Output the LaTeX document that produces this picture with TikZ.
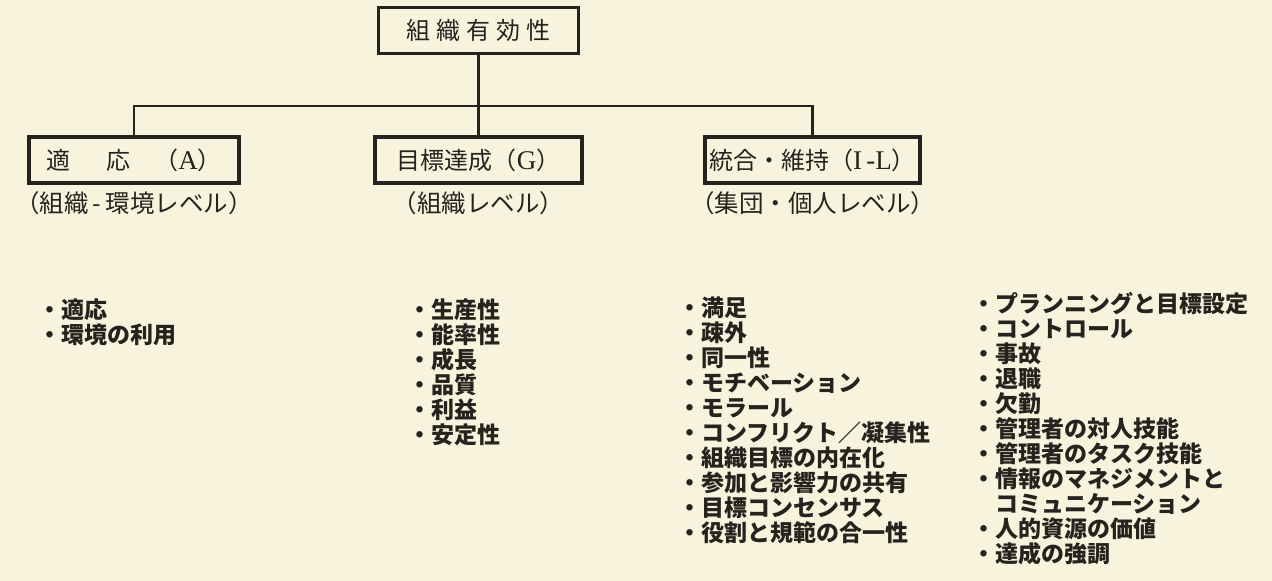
\documentclass[tikz,border=0pt]{standalone}
\usepackage{fontspec}
\usepackage{xcolor}
\usepackage{tikz}
\usetikzlibrary{positioning}
\setmainfont{Noto Sans CJK JP}
\newfontfamily\latin{Liberation Serif}
\newcommand\lat[1]{{\latin\fontsize{27}{28}\selectfont #1}}
\definecolor{paper}{RGB}{247,243,221}
\definecolor{ink}{RGB}{38,34,30}

\begin{document}
\begin{tikzpicture}[x=1pt,y=1pt,on grid,
		box/.style={draw=ink,text=ink,line width=3.2pt,inner sep=0pt,minimum height=46pt,font=\fontsize{24}{28}\selectfont},
		lvl/.style={text=ink,inner sep=0pt,font=\fontsize{24.5}{26}\selectfont},
		items/.style={text=ink,inner sep=0pt,anchor=north west,align=left,font=\fontsize{23}{25}\selectfont\bfseries},
		tie/.style={draw=ink,line width=2.2pt}]
		\fill[paper] (0,0) rectangle (1272,-581);
		\useasboundingbox (0,0) rectangle (1272,-581);

		\node[box,minimum width=200pt]	(eff)	at (478.5,-30.5)		{組\hspace{.25em}織\hspace{.25em}有\hspace{.25em}効\hspace{.25em}性};
		\node[box,minimum width=207pt]	(goal)	[below=129.5pt of eff]	{目標達成（\lat{G}）};
		\node[box,minimum width=210pt]	(adapt)	[left=344.5pt of goal]	{適\hspace{1.5em}応\hspace{1em}（\lat{A}）};
		\node[box,minimum width=215pt]	(integ)	[right=334pt of goal]	{統合・維持（\lat{I\,-L}）};
		\coordinate[below=75.5pt of eff]	(fork);

		\node[lvl]	(lvA)	[below=43pt of adapt]	{（組織\,-\,環境レベル）};
		\node[lvl]	(lvG)	[below=43pt of goal]	{（組織レベル）};
		\node[lvl]	(lvI)	[below=43pt of integ]	{（集団・個人レベル）};

		\draw[tie]	(eff) -- (goal);
		\draw[tie]	(adapt) |- (fork) -| (integ);

		\node[items]	(listA)	at (38,-299)	{・適応\\・環境の利用};
		\node[items]	(listG)	at (408,-299)	{・生産性\\・能率性\\・成長\\・品質\\・利益\\・安定性};
		\node[items]	(listI)	at (678,-297)	{・満足\\・疎外\\・同一性\\・モチベーション\\・モラール\\・コンフリクト／凝集性\\・組織目標の内在化\\・参加と影響力の共有\\・目標コンセンサス\\・役割と規範の合一性};
		\node[items]	(listL)	at (972,-292)	{・プランニングと目標設定\\・コントロール\\・事故\\・退職\\・欠勤\\・管理者の対人技能\\・管理者のタスク技能\\・情報のマネジメントと\\\hspace*{1em}コミュニケーション\\・人的資源の価値\\・達成の強調};
\end{tikzpicture}
\end{document}
